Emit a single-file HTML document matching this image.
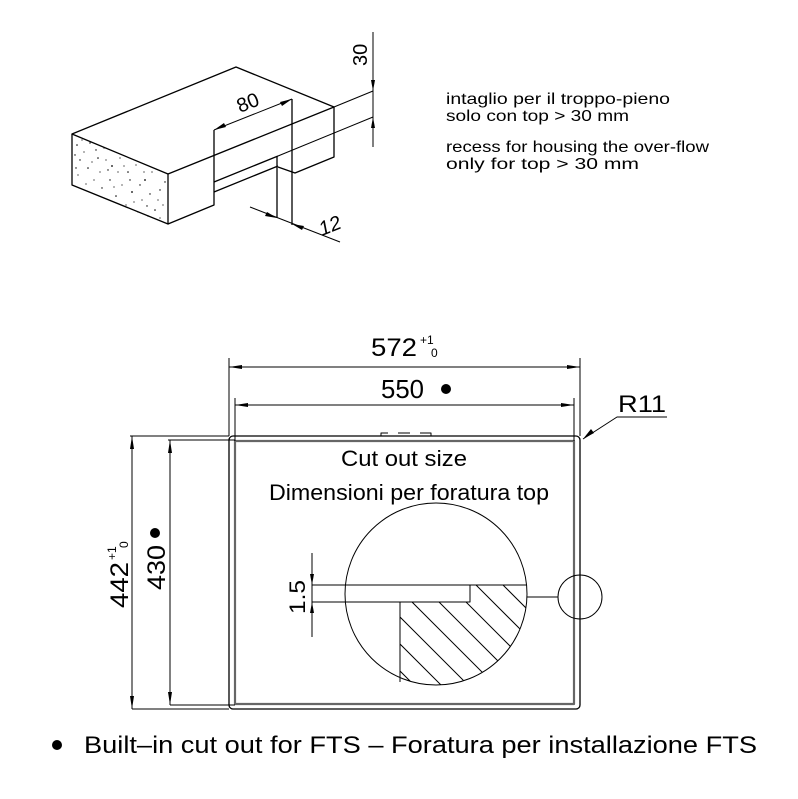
<!DOCTYPE html>
<html><head><meta charset="utf-8"><style>
html,body{margin:0;padding:0;background:#fff;}
svg{display:block;}
text{font-family:"Liberation Sans",sans-serif;fill:#000;}
</style></head><body>
<svg width="798" height="799" viewBox="0 0 798 799" xmlns="http://www.w3.org/2000/svg">
<defs>
<clipPath id="bc"><circle cx="436" cy="594" r="91"/></clipPath>
<clipPath id="hr"><path d="M470 585 H540 V700 H400 V602 H470 Z"/></clipPath>
</defs>
<g stroke="#000" stroke-width="1.3" fill="none" stroke-linejoin="round">
<polygon points="72,134 236,67 334,107 168,174" fill="#fff"/>
<polyline points="72,134 72,185 168,224 168,174"/>
<polyline points="168,224 214,205 214,130"/>
<polyline points="334,107 334,157 295,173 278,167"/>
<line x1="214" y1="182" x2="278" y2="156"/>
<line x1="214" y1="192" x2="278" y2="166"/>
<line x1="277" y1="156" x2="277" y2="218"/>
<line x1="292" y1="99" x2="292" y2="225"/>
<line x1="214" y1="130" x2="292" y2="99" stroke-width="1"/>
<line x1="334" y1="107" x2="373" y2="91" stroke-width="1"/>
<line x1="278" y1="156" x2="373" y2="117" stroke-width="1"/>
<line x1="373" y1="32" x2="373" y2="147" stroke-width="1"/>
<line x1="250" y1="207" x2="340" y2="242" stroke-width="1"/>
<rect x="229" y="436" width="351" height="273" rx="4"/>
<rect x="235" y="441" width="339" height="263" stroke="#666" stroke-width="2.2"/>
<line x1="229" y1="358" x2="229" y2="436" stroke-width="1"/>
<line x1="580" y1="358" x2="580" y2="436" stroke-width="1"/>
<line x1="229" y1="367" x2="580" y2="367" stroke-width="1"/>
<line x1="235" y1="398" x2="235" y2="441" stroke-width="1"/>
<line x1="574" y1="398" x2="574" y2="441" stroke-width="1"/>
<line x1="235" y1="405" x2="574" y2="405" stroke-width="1"/>
<line x1="130" y1="436" x2="229" y2="436" stroke-width="1"/>
<line x1="132" y1="709" x2="229" y2="709" stroke-width="1"/>
<line x1="132" y1="436" x2="132" y2="709" stroke-width="1"/>
<line x1="168" y1="440" x2="235" y2="440" stroke-width="1"/>
<line x1="170" y1="705" x2="235" y2="705" stroke-width="1"/>
<line x1="170" y1="440" x2="170" y2="705" stroke-width="1"/>
<polyline points="667,417 617,417 583,439" stroke-width="1"/>
<path d="M381 436 V433 H431 V436" stroke-width="1"/>
<line x1="388" y1="433" x2="398" y2="433" stroke="#fff" stroke-width="1.5"/>
<line x1="410" y1="433" x2="420" y2="433" stroke="#fff" stroke-width="1.5"/>
<circle cx="436" cy="594" r="91" stroke-width="1"/>
<circle cx="580" cy="597" r="22" stroke-width="1"/>
<line x1="527" y1="597" x2="558" y2="597" stroke-width="1"/>
<line x1="312" y1="585" x2="527" y2="585" stroke-width="1"/>
<polyline points="312,602 470,602 470,585" stroke-width="1"/>
<line x1="400" y1="602" x2="400" y2="682" stroke-width="1"/>
<line x1="312" y1="553" x2="312" y2="637" stroke-width="1"/>
<g clip-path="url(#bc)" stroke-width="1"><g clip-path="url(#hr)">
<path d="M330 520 l200 200 M357 520 l200 200 M384 520 l200 200 M411 520 l200 200 M438 520 l200 200 M465 520 l200 200 M303 520 l200 200 M276 520 l200 200 M249 520 l200 200 M222 520 l200 200 M492 520 l200 200"/>
</g></g>
</g>
<g fill="#000">
<circle cx="77" cy="145" r="0.8"/><circle cx="84" cy="152" r="0.6"/><circle cx="90" cy="143" r="0.7"/><circle cx="98" cy="158" r="0.8"/><circle cx="104" cy="148" r="0.6"/><circle cx="112" cy="166" r="0.9"/><circle cx="120" cy="158" r="0.6"/><circle cx="128" cy="172" r="0.8"/><circle cx="136" cy="165" r="0.6"/><circle cx="145" cy="180" r="0.9"/><circle cx="152" cy="172" r="0.6"/><circle cx="160" cy="190" r="0.7"/><circle cx="163" cy="205" r="0.6"/><circle cx="155" cy="210" r="0.8"/><circle cx="142" cy="200" r="0.6"/><circle cx="132" cy="192" r="0.9"/><circle cx="122" cy="185" r="0.6"/><circle cx="110" cy="180" r="0.7"/><circle cx="100" cy="172" r="0.6"/><circle cx="88" cy="168" r="0.8"/><circle cx="78" cy="175" r="0.6"/><circle cx="80" cy="160" r="0.7"/><circle cx="94" cy="180" r="0.6"/><circle cx="116" cy="196" r="0.8"/><circle cx="138" cy="212" r="0.6"/><circle cx="150" cy="194" r="0.7"/><circle cx="126" cy="205" r="0.6"/><circle cx="106" cy="160" r="0.6"/><circle cx="140" cy="185" r="0.7"/><circle cx="160" cy="218" r="0.6"/><circle cx="86" cy="184" r="0.6"/><circle cx="118" cy="172" r="0.6"/>
<circle cx="75" cy="155" r="0.7"/><circle cx="82" cy="140" r="0.6"/><circle cx="96" cy="150" r="0.7"/><circle cx="108" cy="170" r="0.7"/><circle cx="114" cy="187" r="0.6"/><circle cx="130" cy="180" r="0.7"/><circle cx="147" cy="206" r="0.7"/><circle cx="158" cy="200" r="0.6"/><circle cx="165" cy="182" r="0.7"/><circle cx="92" cy="162" r="0.6"/><circle cx="102" cy="188" r="0.7"/><circle cx="124" cy="166" r="0.6"/><circle cx="134" cy="202" r="0.6"/><circle cx="148" cy="216" r="0.7"/><circle cx="76" cy="168" r="0.7"/><circle cx="144" cy="172" r="0.6"/>
<polygon points="214,130 224,123 226,127"/>
<polygon points="292,99 282,106 280,102"/>
<polygon points="373,91 371,80 375,80"/>
<polygon points="373,117 371,128 375,128"/>
<polygon points="277,218 265,216 267,212"/>
<polygon points="292,224 304,226 302,230"/>
<polygon points="229,367 242,365 242,369"/>
<polygon points="580,367 567,365 567,369"/>
<polygon points="235,405 248,403 248,407"/>
<polygon points="574,405 561,403 561,407"/>
<polygon points="132,436 130,449 134,449"/>
<polygon points="132,709 130,696 134,696"/>
<polygon points="170,440 168,453 172,453"/>
<polygon points="170,705 168,692 172,692"/>
<polygon points="583,439 591,429 594,433"/>
<polygon points="312,585 310,574 314,574"/>
<polygon points="312,602 310,613 314,613"/>
<circle cx="446" cy="389" r="5"/>
<circle cx="155" cy="533" r="5"/>
<circle cx="57" cy="745" r="5"/>
</g>
<text x="0" y="0" font-size="20" transform="translate(240,113) rotate(-22)">80</text>
<text x="0" y="0" font-size="20" transform="translate(367,66) rotate(-90)">30</text>
<text x="0" y="0" font-size="20" font-style="italic" transform="translate(322,236) rotate(-22)">12</text>
<text x="446" y="104" font-size="16" textLength="224" lengthAdjust="spacingAndGlyphs">intaglio per il troppo-pieno</text>
<text x="446" y="121" font-size="16" textLength="183" lengthAdjust="spacingAndGlyphs">solo con top &gt; 30 mm</text>
<text x="446" y="152" font-size="16" textLength="263" lengthAdjust="spacingAndGlyphs">recess for housing the over-flow</text>
<text x="446" y="169" font-size="16" textLength="193" lengthAdjust="spacingAndGlyphs">only for top &gt; 30 mm</text>
<text x="371" y="356" font-size="25" textLength="46" lengthAdjust="spacingAndGlyphs">572</text>
<text x="420" y="344" font-size="12">+1</text>
<text x="431" y="357" font-size="12">0</text>
<text x="381" y="398" font-size="26" textLength="43" lengthAdjust="spacingAndGlyphs">550</text>
<text x="618" y="412" font-size="24" textLength="48" lengthAdjust="spacingAndGlyphs">R11</text>
<text x="341" y="466" font-size="22" textLength="126" lengthAdjust="spacingAndGlyphs">Cut out size</text>
<text x="269" y="500" font-size="22" textLength="280" lengthAdjust="spacingAndGlyphs">Dimensioni per foratura top</text>
<text x="0" y="0" font-size="25" transform="translate(128,608) rotate(-90)" textLength="46" lengthAdjust="spacingAndGlyphs">442</text>
<text x="0" y="0" font-size="12" transform="translate(116,560) rotate(-90)">+1</text>
<text x="0" y="0" font-size="12" transform="translate(128,548) rotate(-90)">0</text>
<text x="0" y="0" font-size="25" transform="translate(165,590) rotate(-90)" textLength="45" lengthAdjust="spacingAndGlyphs">430</text>
<text x="0" y="0" font-size="22" transform="translate(305,614) rotate(-90)" textLength="34" lengthAdjust="spacingAndGlyphs">1.5</text>
<text x="84" y="753" font-size="24" textLength="673" lengthAdjust="spacingAndGlyphs">Built–in cut out for FTS – Foratura per installazione FTS</text>
</svg>
</body></html>
